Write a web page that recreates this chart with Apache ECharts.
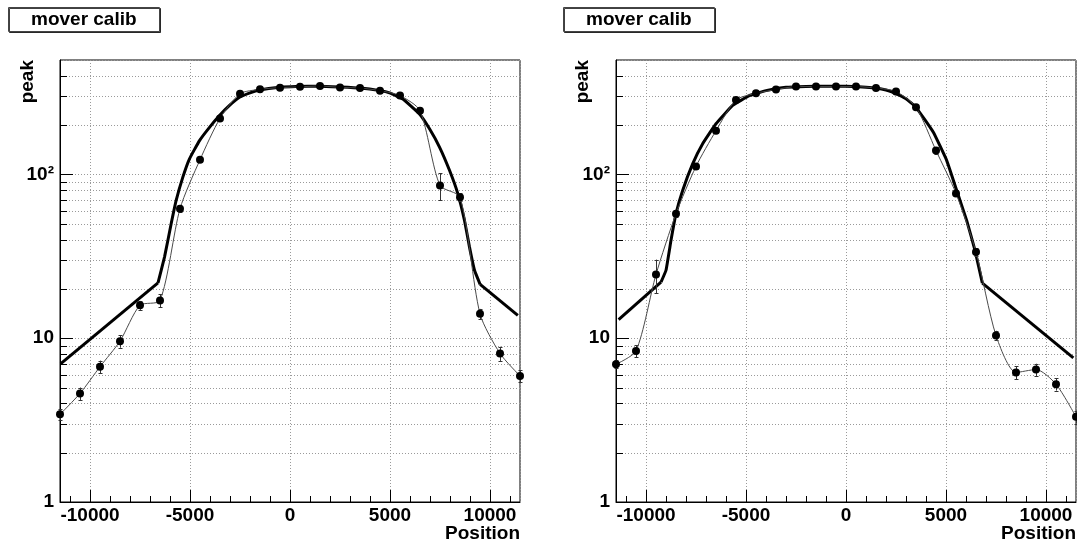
<!DOCTYPE html>
<html>
<head>
<meta charset="utf-8">
<script src="https://cdn.jsdelivr.net/npm/echarts@6/dist/echarts.min.js"></script>
<style>
html, body { margin: 0; padding: 0; background: #fff; }
#chart { width: 1077px; height: 544px; }
</style>
</head>
<body>
<div id="chart"></div>
<script>
// Scan positions (bin centres) shared by both mover scans
const positions = [-11500, -10500, -9500, -8500, -7500, -6500, -5500, -4500, -3500, -2500, -1500, -500,
                   500, 1500, 2500, 3500, 4500, 5500, 6500, 7500, 8500, 9500, 10500, 11500];

// Left scan: measured peak and its uncertainty
const peakA = [3.43, 4.6, 6.7, 9.6, 15.9, 17.0, 61.8, 123, 220, 311, 331, 339,
               343, 347, 340, 337, 325, 303, 245, 85.7, 72.7, 14.1, 8.07, 5.89];
const errA  = [0.25, 0.4, 0.6, 0.85, 1.0, 1.5, 2.5, 4, 5, 6, 6, 6,
               6, 6, 6, 6, 6, 6, 5, 16, 4, 1.0, 0.8, 0.5];

// Right scan: measured peak and its uncertainty
const peakB = [6.94, 8.37, 24.5, 57.6, 112, 185, 285, 313, 330, 344, 344, 344,
               344, 337, 321, 257, 140, 76.6, 33.6, 10.4, 6.18, 6.44, 5.24, 3.31];
const errB  = [0.4, 0.7, 5.7, 2.5, 4, 5, 6, 6, 6, 6, 6, 6,
               6, 6, 6, 6, 7, 3, 1.8, 0.7, 0.55, 0.55, 0.45, 0.3];

// Fitted response, left scan: low tail, core, high tail
const fitLowA  = [[-11460, 7.0], [-6600, 21.8]];
const fitCoreA = [[-6600, 21.8], [-6275, 31.3], [-5942, 50], [-5692, 69.4], [-5358, 96.3], [-5025, 124.7],
                  [-4525, 161], [-4025, 194], [-3525, 229], [-3025, 264], [-2525, 296], [-2000, 315],
                  [-1525, 328], [-525, 341], [300, 345], [1500, 346], [2500, 342], [3500, 337],
                  [4500, 325], [4975, 315], [5642, 289], [6475, 234], [6975, 190], [7475, 147],
                  [7975, 106], [8392, 76.3], [8725, 52.4], [8975, 36.0], [9225, 26.0], [9508, 21.3]];
const fitHighA = [[9508, 21.3], [11392, 13.8]];

// Fitted response, right scan
const fitLowB  = [[-11370, 13.0], [-9250, 22.0]];
const fitCoreB = [[-9250, 22.0], [-9000, 26.0], [-8750, 39.6], [-8500, 57.6], [-8167, 79.9], [-7667, 116],
                  [-7167, 154], [-6500, 204], [-5667, 264], [-4833, 303], [-4000, 325], [-3000, 341],
                  [-2000, 345], [-1000, 346], [0, 346], [1000, 341], [1500, 337], [2000, 328],
                  [2500, 312], [3000, 290], [3500, 257], [4367, 181], [5033, 122], [5533, 80],
                  [6033, 52.4], [6450, 34.4], [6817, 21.7]];
const fitHighB = [[6817, 21.7], [11367, 7.59]];

// Axis ranges and tick values
const xRange = [-11500, 11500];
const yRange = [1, 500];
const xMinorTicks = [-11000, -9000, -8000, -7000, -6000, -4000, -3000, -2000, -1000,
                     1000, 2000, 3000, 4000, 6000, 7000, 8000, 9000, 11000];
const yMinorTicks = [2, 3, 4, 5, 6, 7, 8, 9, 20, 30, 40, 50, 60, 70, 80, 90, 200, 300, 400];

const FONT = '"Liberation Sans", Arial, Helvetica, sans-serif';
const GRID_COLOR = '#9a9a9a';
const GRID_DASH = [1, 2];

const panels = [
  { left: 60,  peak: peakA, err: errA, low: fitLowA, core: fitCoreA, high: fitHighA },
  { left: 616, peak: peakB, err: errB, low: fitLowB, core: fitCoreB, high: fitHighB }
];

const chart = echarts.init(document.getElementById('chart'), null, { renderer: 'canvas' });

function crisp(v) { return Math.round(v) + 0.5; }

function panelSeries(p, gi) {
  const ax = { xAxisIndex: gi, yAxisIndex: gi };
  const fitStyle = { color: '#000', width: 3 };
  return [
    // dotted horizontal grid at every log minor step
    Object.assign({
      type: 'custom', silent: true, z: 1,
      data: yMinorTicks.map(v => [xRange[0], v]),
      renderItem: (params, api) => {
        const a = api.coord([xRange[0], api.value(1)]);
        const b = api.coord([xRange[1], api.value(1)]);
        const y = crisp(a[1]);
        return { type: 'line', shape: { x1: a[0], y1: y, x2: b[0], y2: y },
                 style: { stroke: GRID_COLOR, lineWidth: 1, lineDash: GRID_DASH } };
      }
    }, ax),
    // fitted response
    Object.assign({ type: 'line', data: p.low, showSymbol: false, silent: true, z: 2,
                    lineStyle: fitStyle, itemStyle: { color: '#000' } }, ax),
    Object.assign({ type: 'line', data: p.core, showSymbol: false, silent: true, z: 2, smooth: 0.1,
                    lineStyle: fitStyle, itemStyle: { color: '#000' } }, ax),
    Object.assign({ type: 'line', data: p.high, showSymbol: false, silent: true, z: 2,
                    lineStyle: fitStyle, itemStyle: { color: '#000' } }, ax),
    // error bars
    Object.assign({
      type: 'custom', silent: true, z: 3,
      data: positions.map((x, i) => [x, p.peak[i], p.err[i]]),
      encode: { x: 0, y: 1 },
      renderItem: (params, api) => {
        const x = api.value(0), y = api.value(1), e = api.value(2);
        const hi = api.coord([x, y + e]);
        const lo = api.coord([x, y - e]);
        const cx = crisp(hi[0]);
        const st = { stroke: '#333', lineWidth: 1 };
        return { type: 'group', children: [
          { type: 'line', shape: { x1: cx, y1: hi[1], x2: cx, y2: lo[1] }, style: st },
          { type: 'line', shape: { x1: cx - 2, y1: crisp(hi[1]), x2: cx + 2, y2: crisp(hi[1]) }, style: st },
          { type: 'line', shape: { x1: cx - 2, y1: crisp(lo[1]), x2: cx + 2, y2: crisp(lo[1]) }, style: st }
        ] };
      }
    }, ax),
    // measured points joined by a smooth curve
    Object.assign({
      type: 'line', z: 4, silent: true,
      data: positions.map((x, i) => [x, p.peak[i]]),
      smooth: 0.25,
      symbol: 'circle', symbolSize: 8, showSymbol: true,
      itemStyle: { color: '#000' },
      lineStyle: { color: '#4a4a4a', width: 1 }
    }, ax),
    // minor ticks on the position axis
    Object.assign({
      type: 'custom', silent: true, z: 5,
      data: xMinorTicks.map(v => [v, yRange[0]]),
      renderItem: (params, api) => {
        const c = api.coord([api.value(0), yRange[0]]);
        const x = crisp(c[0]);
        return { type: 'line', shape: { x1: x, y1: c[1], x2: x, y2: c[1] - 6 },
                 style: { stroke: '#000', lineWidth: 1 } };
      }
    }, ax),
    // minor ticks on the peak axis
    Object.assign({
      type: 'custom', silent: true, z: 5,
      data: yMinorTicks.map(v => [xRange[0], v]),
      renderItem: (params, api) => {
        const c = api.coord([xRange[0], api.value(1)]);
        const y = crisp(c[1]);
        return { type: 'line', shape: { x1: c[0], y1: y, x2: c[0] + 7, y2: y },
                 style: { stroke: '#000', lineWidth: 1 } };
      }
    }, ax)
  ];
}

function xAxisCfg(gi) {
  return {
    type: 'value', gridIndex: gi, min: xRange[0], max: xRange[1], splitNumber: 5,
    axisLine: { show: true, onZero: false, lineStyle: { color: '#000', width: 1 } },
    axisTick: { show: true, inside: true, length: 12, lineStyle: { color: '#000', width: 1 } },
    axisLabel: { show: true, margin: 4, color: '#000', fontSize: 19, fontWeight: 'bold',
                 fontFamily: FONT, showMinLabel: false, showMaxLabel: false,
                 formatter: v => String(Math.round(v)) },
    splitLine: { show: true, lineStyle: { color: GRID_COLOR, type: GRID_DASH, width: 1 } }
  };
}

function yAxisCfg(gi) {
  return {
    type: 'log', logBase: 10, gridIndex: gi, min: yRange[0], max: yRange[1],
    axisLine: { show: true, onZero: false, lineStyle: { color: '#000', width: 1 } },
    axisTick: { show: true, inside: true, length: 13, lineStyle: { color: '#000', width: 1 } },
    axisLabel: {
      show: true, margin: 6, color: '#000', fontSize: 19, fontWeight: 'bold', fontFamily: FONT,
      showMinLabel: true, showMaxLabel: false,
      formatter: v => {
        const r = Math.round(v);
        if (r === 100) return '10\u00B2';
        return String(r);
      }
    },
    splitLine: { show: true, lineStyle: { color: GRID_COLOR, type: GRID_DASH, width: 1 } }
  };
}

function titleCfg(left) {
  return {
    text: 'mover calib', left: left, top: 7, padding: [3, 23, 3, 23],
    borderColor: '#444', borderWidth: 1, backgroundColor: '#fff',
    shadowColor: 'rgba(0,0,0,0.75)', shadowOffsetX: 1, shadowOffsetY: 1, shadowBlur: 0,
    textStyle: { fontFamily: FONT, fontWeight: 'bold', fontSize: 19, lineHeight: 19, color: '#000' }
  };
}

function axisTitle(text, x, y, rotated) {
  return {
    type: 'text', x: x, y: y, rotation: rotated ? Math.PI / 2 : 0, silent: true,
    style: { text: text, fontFamily: FONT, fontWeight: 'bold', fontSize: 19, fill: '#000',
             align: 'right', verticalAlign: 'middle' }
  };
}

const option = {
  animation: false,
  backgroundColor: '#fff',
  title: [titleCfg(8), titleCfg(563)],
  grid: panels.map(p => ({
    left: p.left, top: 60, width: 460, height: 442,
    show: true, borderColor: '#000', borderWidth: 1, backgroundColor: 'transparent', containLabel: false
  })),
  xAxis: panels.map((p, gi) => xAxisCfg(gi)),
  yAxis: panels.map((p, gi) => yAxisCfg(gi)),
  graphic: [
    axisTitle('peak', 28, 60, true),
    axisTitle('Position', 520, 534, false),
    axisTitle('peak', 583, 60, true),
    axisTitle('Position', 1076, 534, false)
  ],
  series: panels.reduce((acc, p, gi) => acc.concat(panelSeries(p, gi)), [])
};

chart.setOption(option);
</script>
</body>
</html>
